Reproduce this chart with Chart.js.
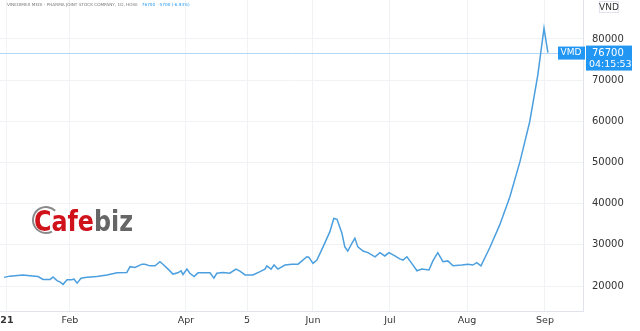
<!DOCTYPE html>
<html>
<head>
<meta charset="utf-8">
<script src="https://cdn.jsdelivr.net/npm/chart.js@4.4.1/dist/chart.umd.min.js"></script>
<style>
  html, body { margin: 0; padding: 0; background: #fff; }
  #wrap { width: 640px; height: 331px; }
</style>
</head>
<body>
<div id="wrap"><canvas id="priceChart" width="640" height="331"></canvas></div>
<script>
// trading session index (0 = first session of 2021) and close price in VND
const sessions = [0,1.8,5.8,8,10.5,12,14.2,15.1,16.3,17.2,
  18.2,19.4,20.9,21.5,22.5,23.7,25.5,28.6,31.7,34.8,
  37.8,38.8,40.3,42.5,43.4,44.9,46.5,48,48.9,50.5,
  52,53.5,54.5,55.1,56.3,57.2,58.5,59.7,63.4,64.6,
  65.5,67.4,69.5,71.4,72.6,74.2,76.6,78.8,80.3,80.9,
  82.2,83.1,84.3,86.5,88.6,90.5,93.2,93.8,95.1,96.3,
  98.2,100.3,101.5,102.5,104,104.9,105.8,107.1,108,108.9,
  110.5,112,114.2,115.7,117.2,118.5,120.3,121.8,122.8,124,
  125.5,127.1,128.6,130.8,132,133.5,135.1,136.6,138.2,140.9,
  142.8,144.3,145.5,146.8,149.5,152.6,155.7,158.8,161.8,164.3,
  166.2,167.4];
const prices = [22100,22400,22700,22500,22300,21600,21600,22200,21300,21000,
  20400,21500,21500,21700,20700,21900,22100,22300,22700,23200,
  23300,24700,24500,25300,25300,24900,24900,25900,25300,24100,
  22900,23200,23700,22800,24100,23100,22300,23200,23200,21900,
  23100,23300,23100,24100,23600,22700,22700,23500,24100,24900,
  24100,25100,24100,25100,25300,25300,27100,27000,25500,26300,
  29500,33200,36400,36200,32800,29500,28500,30400,31600,29500,
  28500,28100,27100,28100,27300,28100,27300,26600,26300,27100,
  25500,23700,24100,23900,26100,28100,25900,26100,24900,25100,
  25300,25100,25700,24900,29300,34900,41700,50200,59900,71300,
  82600,76700];

const monthTicks = [0.9, 20.3, 56, 74.8, 95.1, 118.8, 142.5, 166.5];
const monthLabels = ['21', 'Feb', 'Apr', '5', 'Jun', 'Jul', 'Aug', 'Sep'];
const priceTicks = [20000, 30000, 40000, 50000, 60000, 70000, 80000];

const lastPrice = 76700;
const lastChange = -5700;
const lastChangePct = '-6.93%';
const lastTime = '04:15:53';
const titleText = 'VINEDIMEX MEDI - PHARMA JOINT STOCK COMPANY, 1D, HOSE';

const lineBlue = '#4b9fdf';
const tagBlue = '#2196f3';

// overlays: price line, watermark, title, last price tags
const overlays = {
  id: 'overlays',
  beforeDatasetsDraw(chart) {
    const ctx = chart.ctx;
    const area = chart.chartArea;
    const y = chart.scales.y.getPixelForValue(lastPrice);
    ctx.save();
    // last price line
    ctx.strokeStyle = '#b3d8f7';
    ctx.lineWidth = 1;
    ctx.beginPath();
    ctx.moveTo(area.left, Math.round(y) + 0.5);
    ctx.lineTo(area.right, Math.round(y) + 0.5);
    ctx.stroke();

    // Cafebiz watermark
    ctx.strokeStyle = '#8a8a8a';
    ctx.lineWidth = 2;
    ctx.beginPath();
    ctx.arc(46, 220, 13, Math.PI * 0.35, Math.PI * 1.75);
    ctx.stroke();
    ctx.textBaseline = 'alphabetic';
    ctx.font = 'bold 29px "Liberation Sans Narrow", "DejaVu Sans Condensed", sans-serif';
    const w1 = ctx.measureText('Cafe').width;
    const w2 = ctx.measureText('biz').width;
    ctx.translate(34, 231);
    ctx.scale(99 / (w1 + w2), 1);
    ctx.fillStyle = '#d0121b';
    ctx.fillText('Cafe', 0, 0);
    ctx.fillStyle = '#666';
    ctx.fillText('biz', w1, 0);
    ctx.restore();
  },
  afterDraw(chart) {
    const ctx = chart.ctx;
    const area = chart.chartArea;
    const y = chart.scales.y.getPixelForValue(lastPrice);
    ctx.save();

    // title line
    ctx.font = '4.2px "DejaVu Sans", sans-serif';
    ctx.textBaseline = 'middle';
    ctx.fillStyle = '#777';
    ctx.fillText(titleText, 7, 4.5);
    let tx = 7 + ctx.measureText(titleText).width + 4;
    ctx.fillStyle = tagBlue;
    ctx.fillText(String(lastPrice), tx, 4.5);
    tx += ctx.measureText(String(lastPrice)).width + 3;
    ctx.fillText(lastChange + ' (' + lastChangePct + ')', tx, 4.5);

    // VND box at top of axis
    ctx.fillStyle = '#fff';
    ctx.strokeStyle = '#e0e3eb';
    ctx.lineWidth = 1;
    ctx.fillRect(599, 1, 20, 12);
    ctx.strokeRect(599.5, 1.5, 19, 11);
    ctx.fillStyle = '#333';
    ctx.font = '9px "DejaVu Sans", sans-serif';
    ctx.textAlign = 'center';
    ctx.fillText('VND', 609, 7.5);

    // symbol tag
    ctx.fillStyle = tagBlue;
    ctx.fillRect(area.right - 25, y - 6, 27, 13);
    ctx.fillStyle = '#fff';
    ctx.font = '9px "DejaVu Sans", sans-serif';
    ctx.fillText('VMD', area.right - 12, y + 0.5);

    // price tag on the axis
    ctx.fillStyle = tagBlue;
    ctx.fillRect(area.right + 3, y - 7, 46, 25);
    ctx.fillStyle = '#fff';
    ctx.textAlign = 'left';
    ctx.font = '10px "DejaVu Sans", sans-serif';
    ctx.fillText(String(lastPrice), area.right + 9, y + 0.5);
    ctx.font = '9.5px "DejaVu Sans", sans-serif';
    ctx.fillText(lastTime, area.right + 6, y + 11.5);
    ctx.restore();
  }
};

const chart = new Chart(document.getElementById('priceChart'), {
  type: 'line',
  data: {
    datasets: [{
      label: 'VMD',
      data: sessions.map((s, i) => ({ x: s, y: prices[i] })),
      borderColor: lineBlue,
      borderWidth: 1.5,
      pointRadius: 0,
      tension: 0
    }]
  },
  options: {
    responsive: false,
    animation: false,
    layout: { padding: 0 },
    plugins: { legend: { display: false }, tooltip: { enabled: false } },
    scales: {
      x: {
        type: 'linear',
        min: -1.23,
        max: 178.2,
        afterBuildTicks: scale => { scale.ticks = monthTicks.map(v => ({ value: v })); },
        afterFit: scale => {
          scale.height = 20;
          scale.paddingLeft = 0;
          scale.paddingRight = 0;
        },
        grid: { color: '#f0f2f6', drawTicks: false },
        border: { color: '#e0e3eb' },
        ticks: {
          autoSkip: false,
          maxRotation: 0,
          padding: 4,
          color: '#333',
          font: ctx => ({ size: 9.5, family: '"DejaVu Sans", sans-serif', weight: ctx.index === 0 ? 'bold' : 'normal' }),
          callback: (v, i) => monthLabels[i]
        }
      },
      y: {
        position: 'right',
        min: 13930,
        max: 89470,
        afterBuildTicks: scale => { scale.ticks = priceTicks.map(v => ({ value: v })); },
        afterFit: scale => {
          scale.width = 57;
          scale.paddingTop = 0;
          scale.paddingBottom = 0;
        },
        grid: { color: '#f0f2f6', drawTicks: false },
        border: { color: '#e0e3eb' },
        ticks: {
          padding: 9,
          color: '#333',
          font: { size: 10, family: '"DejaVu Sans", sans-serif' },
          callback: v => String(v)
        }
      }
    }
  },
  plugins: [overlays]
});
</script>
</body>
</html>
